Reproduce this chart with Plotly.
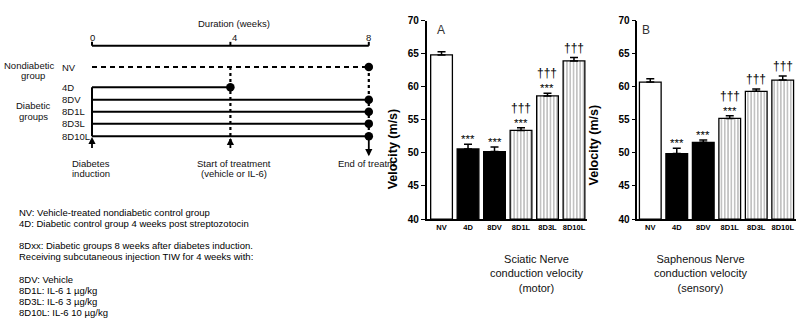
import plotly.graph_objects as go

# ---- data -------------------------------------------------------------
groups = ["NV", "4D", "8DV", "8D1L", "8D3L", "8D10L"]

sciatic_mean = [64.8, 50.6, 50.2, 53.4, 58.6, 63.9]
sciatic_sem = [0.5, 0.7, 0.7, 0.4, 0.4, 0.5]
sciatic_stars = ["", "***", "***", "***", "***", ""]
sciatic_dagger = ["", "", "", "†††", "†††", "†††"]

saphenous_mean = [60.7, 49.9, 51.6, 55.2, 59.3, 61.0]
saphenous_sem = [0.5, 0.8, 0.35, 0.4, 0.35, 0.6]
saphenous_stars = ["", "***", "***", "***", "", ""]
saphenous_dagger = ["", "", "", "†††", "†††", "†††"]

# study timeline (weeks)
timeline_ticks = [0, 4, 8]
timeline_groups = ["NV", "4D", "8DV", "8D1L", "8D3L", "8D10L"]
timeline_start = [0, 0, 0, 0, 0, 0]
timeline_end = [8, 4, 8, 8, 8, 8]
treatment_start = 4

legend_lines = [
    "NV: Vehicle-treated nondiabetic control group",
    "4D: Diabetic control group 4 weeks post streptozotocin",
    "",
    "8Dxx: Diabetic groups 8 weeks after diabetes induction.",
    "Receiving subcutaneous injection TIW for 4 weeks with:",
    "",
    "8DV: Vehicle",
    "8D1L: IL-6 1 µg/kg",
    "8D3L: IL-6 3 µg/kg",
    "8D10L: IL-6 10 µg/kg",
]

# ---- styling / geometry -------------------------------------------------
W, H = 809, 333
FONT = "Arial, Liberation Sans, sans-serif"
fill_colors = ["white", "black", "black", "white", "white", "white"]
patterns = ["", "", "", "|", "|", "|"]
# row positions of the timeline diagram (pixel rows of the y3 axis)
row_y = [64, 84.7, 97.7, 110, 122.3, 135.3]
scale_y = 42


def px(x):
    return x / W


def py(y):
    return 1 - y / H


fig = go.Figure()


def add_panel(means, sems, xa, ya):
    fig.add_trace(go.Bar(
        x=groups, y=[m - 40 for m in means], base=40,
        width=0.82,
        marker=dict(
            color=fill_colors,
            line=dict(color="black", width=1.3),
            pattern=dict(shape=patterns, fgcolor="black", bgcolor="white",
                         fillmode="overlay", size=3.3, solidity=0.33),
        ),
        error_y=dict(type="data", array=sems, arrayminus=[0] * len(sems),
                     symmetric=False, color="black", thickness=1.5, width=4),
        xaxis=xa, yaxis=ya, showlegend=False, hoverinfo="skip",
    ))


add_panel(sciatic_mean, sciatic_sem, "x", "y")
add_panel(saphenous_mean, saphenous_sem, "x2", "y2")


def add_marks(means, sems, stars, daggers, xref, yref):
    for g, m, s, st, dg in zip(groups, means, sems, stars, daggers):
        top = m + s
        if st:
            fig.add_annotation(x=g, y=top, xref=xref, yref=yref, text=st,
                               showarrow=False, yanchor="bottom", yshift=-3,
                               font=dict(family=FONT, size=11.5, color="black"))
        if dg:
            fig.add_annotation(x=g, y=top, xref=xref, yref=yref, text=dg,
                               showarrow=False, yanchor="bottom",
                               yshift=11 if st else 1,
                               font=dict(family=FONT, size=12, color="black"))


add_marks(sciatic_mean, sciatic_sem, sciatic_stars, sciatic_dagger, "x", "y")
add_marks(saphenous_mean, saphenous_sem, saphenous_stars, saphenous_dagger, "x2", "y2")

# ---- timeline diagram ---------------------------------------------------
# scale bar with upward ticks
sx, sy = [], []
sx += [timeline_ticks[0], timeline_ticks[-1], None]
sy += [scale_y, scale_y, None]
for t in timeline_ticks:
    sx += [t, t, None]
    sy += [scale_y, scale_y - 4, None]
fig.add_trace(go.Scatter(x=sx, y=sy, mode="lines", xaxis="x3", yaxis="y3",
                         line=dict(color="black", width=2), showlegend=False,
                         hoverinfo="skip"))

# vertical connectors
diab_rows = row_y[1:]
fig.add_trace(go.Scatter(x=[0, 0], y=[min(diab_rows), max(diab_rows)],
                         mode="lines", xaxis="x3", yaxis="y3",
                         line=dict(color="black", width=2), showlegend=False,
                         hoverinfo="skip"))
fig.add_trace(go.Scatter(x=[treatment_start, treatment_start], y=[row_y[0], 140],
                         mode="lines", xaxis="x3", yaxis="y3",
                         line=dict(color="black", width=2.2, dash="dot"),
                         showlegend=False, hoverinfo="skip"))
fig.add_trace(go.Scatter(x=[8, 8], y=[row_y[0], row_y[-1]],
                         mode="lines", xaxis="x3", yaxis="y3",
                         line=dict(color="black", width=2.2, dash="dot"),
                         showlegend=False, hoverinfo="skip"))

for g, s, e, yv in zip(timeline_groups, timeline_start, timeline_end, row_y):
    fig.add_trace(go.Scatter(
        x=[s, e], y=[yv, yv], mode="lines", xaxis="x3", yaxis="y3",
        line=dict(color="black", width=2, dash="5px,4px" if g == "NV" else "solid"),
        showlegend=False, hoverinfo="skip"))
    fig.add_annotation(x=px(60), y=yv, xref="paper", yref="y3", text=g,
                       showarrow=False, xanchor="left", yanchor="middle",
                       font=dict(family=FONT, size=9.5, color="#111"))

# end-point dots of each group
fig.add_trace(go.Scatter(x=timeline_end, y=row_y, mode="markers",
                         xaxis="x3", yaxis="y3",
                         marker=dict(color="black", size=8.5, line=dict(width=0)),
                         showlegend=False, hoverinfo="skip"))

# arrows: diabetes induction, start of treatment, end of treatment
for xw, tip, tail in [(0, 136, 149), (treatment_start, 137, 149), (8, 156, 136)]:
    fig.add_annotation(x=xw, y=tip, xref="x3", yref="y3", ax=xw, ay=tail,
                       axref="x3", ayref="y3", text="", showarrow=True,
                       arrowhead=2, arrowsize=0.8, arrowwidth=1.8,
                       arrowcolor="black")

texts = [
    ("Duration (weeks)", 234, 19, "center"),
    ("0", 92, 34, "center"), ("4", 234.5, 34, "center"), ("8", 368, 34, "center"),
    ("Nondiabetic", 56, 62, "right"), ("group", 33, 73, "center"),
    ("Diabetic", 33, 104, "center"), ("groups", 33, 115, "center"),
    ("Diabetes", 91, 163, "center"), ("induction", 91, 174, "center"),
    ("Start of treatment", 234, 163, "center"),
    ("(vehicle or IL-6)", 234, 174, "center"),
    ("End of treatm", 336, 163, "left"),
]
for t, x, y, anc in texts:
    fig.add_annotation(x=px(x), y=py(y), xref="paper", yref="paper", text=t,
                       showarrow=False, xanchor=anc, yanchor="middle",
                       font=dict(family=FONT, size=9.5, color="#111"))

# explanatory notes
line_y = 213.5
for line in legend_lines:
    if line:
        fig.add_annotation(x=px(17), y=py(line_y), xref="paper", yref="paper",
                           text=line, showarrow=False, xanchor="left",
                           yanchor="middle",
                           font=dict(family=FONT, size=9.5, color="black"))
    line_y += 11.5

# ---- panel titles / captions -------------------------------------------
for t, x, y in [("A", 441, 17), ("B", 652, 17)]:
    fig.add_annotation(x=px(x), y=py(y), xref="paper", yref="paper", text=t,
                       showarrow=False, font=dict(family=FONT, size=12, color="#333"))
for x, yc in [(393, 105), (603, 101)]:
    fig.add_annotation(x=px(x), y=py(yc), xref="paper", yref="paper",
                       text="Velocity (m/s)", textangle=-90, showarrow=False,
                       font=dict(family=FONT, size=12.5, color="black", weight="bold"))
captions = [("Sciatic Nerve<br>conduction velocity<br>(motor)", 536),
            ("Saphenous Nerve<br>conduction velocity<br>(sensory)", 749)]
for t, x in captions:
    fig.add_annotation(x=px(x), y=py(277), xref="paper", yref="paper", text=t,
                       showarrow=False, align="center", yanchor="middle",
                       font=dict(family=FONT, size=11, color="#111"))

# ---- axes ---------------------------------------------------------------
y_dom = [py(220.7), py(16)]
yax = dict(range=[40, 70], dtick=5, showgrid=False, zeroline=False,
           showline=True, linecolor="black", linewidth=1.5, ticks="outside",
           ticklen=4, tickwidth=1.2, tickcolor="black",
           tickfont=dict(family=FONT, size=10, color="black", weight="bold"),
           domain=y_dom)
xax = dict(showgrid=False, zeroline=False, showline=True, linecolor="black",
           linewidth=1.5, ticks="", type="category",
           tickfont=dict(family=FONT, size=7.5, color="black", weight="bold"))

fig.update_layout(
    width=W, height=H, margin=dict(l=0, r=0, t=0, b=0),
    paper_bgcolor="white", plot_bgcolor="rgba(0,0,0,0)",
    xaxis=dict(xax, domain=[px(426.7), px(586.7)], range=[-0.56, 5.48]),
    yaxis=dict(yax, anchor="x"),
    xaxis2=dict(xax, domain=[px(637.3), px(795.7)], range=[-0.49, 5.49]),
    yaxis2=dict(yax, anchor="x2"),
    xaxis3=dict(domain=[0, px(380)], range=[-92 / 34.6, (380 - 92) / 34.6],
                visible=False, anchor="y3"),
    yaxis3=dict(domain=[0, 1], range=[H, 0], visible=False, anchor="x3"),
    bargap=0.17,
)

fig.write_html("out.html")
